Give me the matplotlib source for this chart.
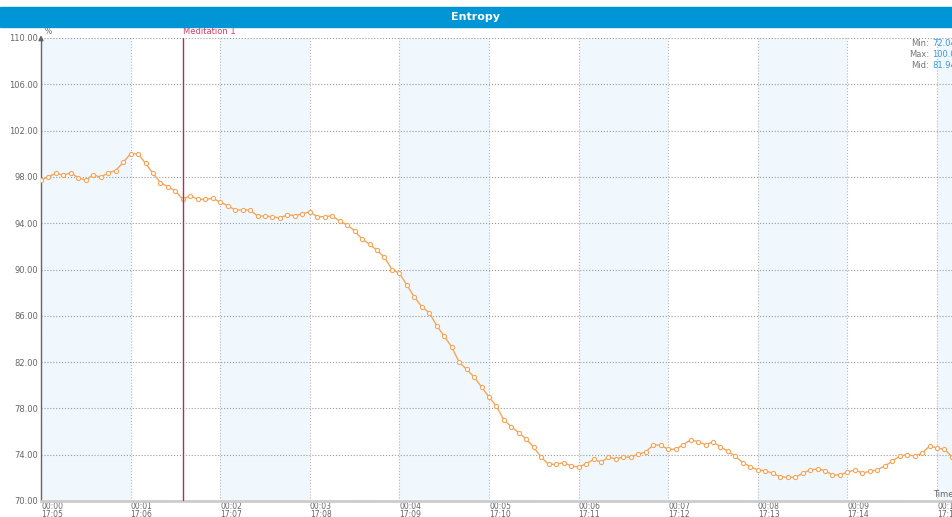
import numpy as np
import matplotlib.pyplot as plt

# entropy samples, one every 5 seconds starting at 17:05
entropy = [97.73, 98.02, 98.31, 98.14, 98.37, 97.90, 97.73, 98.19, 97.96, 98.37,
           98.54, 99.26, 100.00, 100.00, 99.17, 98.31, 97.50, 97.15, 96.78, 96.06,
           96.38, 96.06, 96.06, 96.15, 95.83, 95.51, 95.14, 95.14, 95.14, 94.62,
           94.62, 94.56, 94.45, 94.73, 94.65, 94.82, 94.98, 94.56, 94.56, 94.65,
           94.16, 93.87, 93.33, 92.63, 92.18, 91.66, 91.05, 90.00, 89.67, 88.66,
           87.62, 86.79, 86.27, 85.14, 84.25, 83.30, 82.00, 81.38, 80.71, 79.85,
           78.98, 78.18, 77.00, 76.42, 75.90, 75.33, 74.64, 73.77, 73.17, 73.17,
           73.31, 73.02, 72.94, 73.20, 73.60, 73.37, 73.77, 73.65, 73.80, 73.77,
           74.06, 74.23, 74.86, 74.81, 74.47, 74.47, 74.86, 75.28, 75.13, 74.86,
           75.10, 74.69, 74.29, 73.86, 73.31, 72.96, 72.68, 72.62, 72.39, 72.10,
           72.05, 72.04, 72.39, 72.68, 72.76, 72.62, 72.25, 72.25, 72.50, 72.68,
           72.42, 72.56, 72.70, 73.02, 73.43, 73.89, 74.00, 73.89, 74.12, 74.75,
           74.58, 74.47, 73.83]
step_sec = 5
minutes = list(range(11))
elapsed_labels = ['00:%02d' % m for m in minutes]
clock_labels = ['17:%02d' % (5 + m) for m in minutes]
yticks = [70, 74, 78, 82, 86, 90, 94, 98, 102, 106, 110]
marker_time = 1.585  # "Meditation 1"
marker_label = 'Meditation 1'
stats = [('Min:', '72.04'), ('Max:', '100.00'), ('Mid:', '81.94')]

t = np.arange(len(entropy)) * step_sec / 60.0

fig = plt.figure(figsize=(9.52, 5.17), dpi=100)
W, H = 952.0, 517.0

# title bar
fig.patches.append(plt.Rectangle((0, 1 - 27 / H), 1, 20 / H, transform=fig.transFigure,
                                 color='#0095d4', zorder=0))
fig.text(0.5, 1 - 17.5 / H, 'Entropy', color='white', fontsize=8, fontweight='bold',
         ha='center', va='center')

ax = fig.add_axes([41 / W, 16 / H, 911 / W, 463 / H])
xmax = 911 / 89.6
ax.set_xlim(0, xmax)
ax.set_ylim(70, 110)

# alternating minute bands
for m in range(0, 11, 2):
    ax.axvspan(m, m + 1, color='#f0f8fd', zorder=0, lw=0)

ax.grid(True, axis='y', ls=':', color='#999999', lw=0.8)
ax.grid(True, axis='x', ls=':', color='#b5b5b5', lw=0.8)
ax.set_axisbelow(True)

ax.plot(t, entropy, color='#f5a55a', lw=1.0, marker='o', ms=3.0, mfc='white',
        mec='#f5a55a', mew=0.8, zorder=3)

ax.axvline(marker_time, color='#b03050', lw=1.0, zorder=4)
ax.text(marker_time, 110.2, marker_label, color='#d43c5c', fontsize=6, ha='left', va='bottom')

ax.set_xticks(minutes)
ax.set_xticklabels([a + '\n' + b for a, b in zip(elapsed_labels, clock_labels)],
                   ha='left', fontsize=5.5, color='#666666', linespacing=0.85)
ax.set_yticks(yticks)
ax.set_yticklabels(['%.2f' % v for v in yticks], fontsize=6, color='#666666')
ax.tick_params(axis='x', length=0, pad=0.5)
ax.tick_params(axis='y', length=0, pad=2)

for s in ['top', 'right']:
    ax.spines[s].set_visible(False)
ax.spines['left'].set_color('#666666')
ax.spines['left'].set_linewidth(1.0)
ax.spines['bottom'].set_color('#cccccc')
ax.spines['bottom'].set_linewidth(2.0)

# y axis arrow and unit
ax.annotate('', xy=(0, 1.012), xytext=(0, 0.99), xycoords='axes fraction',
            arrowprops=dict(arrowstyle='-|>', color='#666666', lw=1.0, mutation_scale=7))
ax.text(0.004, 1.004, '%', transform=ax.transAxes, fontsize=5.5, color='#666666',
        ha='left', va='bottom')

ax.text(933 / W, 1 - 499 / H, 'Time, s', transform=fig.transFigure, fontsize=6,
        color='#666666', ha='left', va='bottom')

# stats box top-right
for k, (lab, val) in enumerate(stats):
    y = 1 - (44 + k * 10.5) / H
    fig.text(929 / W, y, lab, fontsize=6, color='#777777', ha='right', va='center')
    fig.text(932 / W, y, val, fontsize=6, color='#3a9ad9', ha='left', va='center')

fig.savefig('out.png', dpi=100)
